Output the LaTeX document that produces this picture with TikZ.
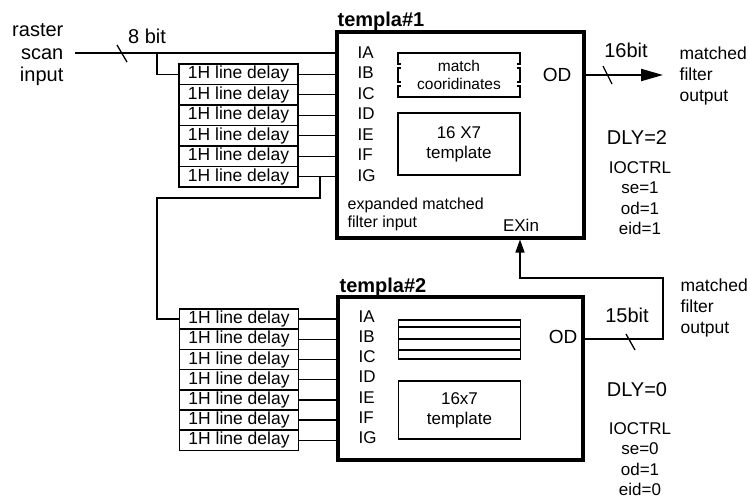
\documentclass[tikz,border=0pt]{standalone}
\usepackage{fontspec}
\setmainfont{Liberation Sans}
\usetikzlibrary{arrows.meta, positioning}

\begin{document}
\begin{tikzpicture}[
    x=1pt, y=-1pt,
    every node/.style={font=\fontsize{17}{20.3}\selectfont, inner sep=0pt},
    line width=1.3pt,
    delay/.style={draw, line width=1.5pt, minimum width=119pt, minimum height=20.5pt, outer sep=0pt,
        font=\fontsize{17.5}{20}\selectfont},
    tbox/.style={draw, line width=3.5pt, outer sep=0pt},
    inbox/.style={draw, line width=1.3pt, minimum width=122pt, align=center},
    biglab/.style={font=\fontsize{20}{22.5}\selectfont},
    small/.style={font=\fontsize{16}{18}\selectfont},
    title/.style={font=\fontsize{20}{22}\selectfont\bfseries, anchor=base west},
    pin/.style={anchor=west},
    outlab/.style={anchor=west, align=left, font=\fontsize{17.5}{21}\selectfont},
    arrow/.style={-{Triangle[length=22pt, width=12pt]}, line width=2.2pt},
    uparrow/.style={-{Triangle[length=13pt, width=9pt]}, shorten >=1.5pt},
]
\useasboundingbox (0,0) rectangle (750,501);

% ===== TEMPLATE BLOCKS =====
\node[tbox, minimum width=247pt, minimum height=206pt] (T1) at (460.5,135) {};
\node[title] (T1-name) at (337,26) {templa\#1};
\node[tbox, minimum width=245pt, minimum height=163pt] (T2) at (460.5,378.5) {};
\node[title] (T2-name) at (339,292) {templa\#2};

% Input pins
\foreach \p/\y in {A/53,B/73,C/94,D/114,E/135,F/155,G/176}
    \node[pin] (T1-I\p) at (357,\y) {I\p};
\foreach \p/\y in {A/317,B/337,C/357,D/377,E/398,F/418,G/438}
    \node[pin] (T2-I\p) at (358,\y) {I\p};

% Inside templa#1
\draw (398,53) -- (520,53);
\draw (398,97) -- (520,97);
\foreach \a/\b in {53/64,68/82,86/97} {
    \draw (401,\a) -- (398,\a) -- (398,\b) -- (401,\b);
    \draw (517,\a) -- (520,\a) -- (520,\b) -- (517,\b);
}
\node[align=center, font=\fontsize{15.5}{18}\selectfont] (match) at (459,75) {match\\cooridinates};
\node[inbox, minimum height=62pt] (tmp1) at (459,144) {16 X7\\template};
\node[small, align=left, anchor=west] (T1-exp) at (347,214) {expanded matched\\filter input};
\node (T1-EX) at (521,225) {EXin};
\node[font=\fontsize{19}{22}\selectfont] (T1-OD) at (557,75) {OD};

% Inside templa#2
\node[inbox, minimum height=39pt] (stack) at (459.5,339.5) {};
\foreach \y in {327,339,350}
    \draw (stack.west |- 0,\y) -- (stack.east |- 0,\y);
\node[inbox, minimum height=58pt] (tmp2) at (459.5,410) {16x7\\template};
\node[font=\fontsize{19}{22}\selectfont] (T2-OD) at (563,337) {OD};

% ===== LINE DELAYS =====
\node[delay] (d1-1) at (238.5,74.2) {1H line delay};
\foreach \i [count=\j from 2] in {1,...,5}
    \node[delay, below=0pt of d1-\i] (d1-\j) {1H line delay};
\foreach \i in {1,...,6}
    \draw (d1-\i.east) -- (d1-\i.east -| T1.west);

\node[delay, minimum height=20.2pt] (d2-1) at (239,319.1) {1H line delay};
\foreach \i [count=\j from 2] in {1,...,6}
    \node[delay, minimum height=20.2pt, below=0pt of d2-\i] (d2-\j) {1H line delay};
\foreach \i in {1,...,7}
    \draw (d2-\i.east) -- (d2-\i.east -| T2.west);

% ===== RASTER INPUT =====
\node[biglab, align=right, anchor=east] (rin-lab) at (64,55) {raster\\scan\\input};
\coordinate (rin) at (75,53);
\coordinate (br1) at (157,53);
\draw (rin) -- (rin -| T1.west);
\draw (br1) |- (d1-1.west);
\draw (117,45) -- (127,62);
\node[biglab] (w8) at (147,36) {8 bit};

% chain to the second group
\coordinate (br2) at (320,198);
\coordinate (br3) at (157,198);
\draw (br2 |- d1-6.east) -- (br2) -- (br3) |- (d2-1.west);

% ===== OUTPUT OF templa#1 =====
\coordinate (out1) at (663,75);
\draw[arrow] (T1.east |- out1) -- (out1);
\draw (603,66) -- (612,84);
\node[biglab] (w16) at (626,50) {16bit};
\node[outlab] (T1-out) at (679,76) {matched\\filter\\output};
\node[biglab] (T1-dly) at (637,138) {DLY=2};
\node[align=center] (T1-ctrl) at (640,198) {IOCTRL\\se=1\\od=1\\eid=1};

% ===== OUTPUT OF templa#2 (feeds EXin) =====
\coordinate (fb1) at (663,339);
\coordinate (fb2) at (520,278);
\draw[uparrow] (T2.east |- fb1) -- (fb1) |- (fb2) -- (fb2 |- T1.south);
\draw (626,334) -- (635,350);
\node[biglab] (w15) at (627,315) {15bit};
\node[outlab] (T2-out) at (680,308) {matched\\filter\\output};
\node[biglab] (T2-dly) at (637,390) {DLY=0};
\node[align=center] (T2-ctrl) at (640,459) {IOCTRL\\se=0\\od=1\\eid=0};

\end{tikzpicture}
\end{document}
